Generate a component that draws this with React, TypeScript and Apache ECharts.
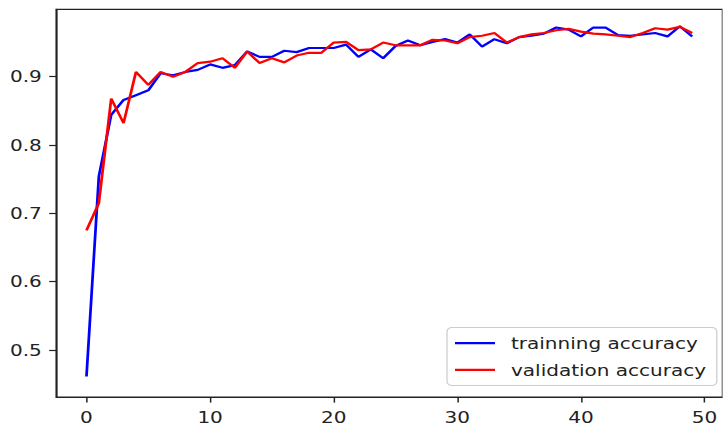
import React, { useEffect, useRef } from "react";
import * as echarts from "echarts";

const trainAcc = [
  0.461, 0.754, 0.844, 0.866, 0.873, 0.880, 0.905, 0.902, 0.907, 0.910,
  0.918, 0.913, 0.917, 0.937, 0.929, 0.929, 0.938, 0.936, 0.942, 0.942,
  0.942, 0.947, 0.929, 0.940, 0.927, 0.945, 0.953, 0.946, 0.951, 0.955,
  0.950, 0.962, 0.944, 0.955, 0.949, 0.958, 0.960, 0.963, 0.972, 0.969,
  0.959, 0.972, 0.972, 0.961, 0.960, 0.962, 0.964, 0.959, 0.974, 0.959,
];
const valAcc = [
  0.675, 0.715, 0.868, 0.832, 0.907, 0.888, 0.907, 0.900, 0.907, 0.920,
  0.922, 0.927, 0.913, 0.937, 0.920, 0.927, 0.921, 0.931, 0.935, 0.935,
  0.950, 0.951, 0.939, 0.940, 0.950, 0.946, 0.946, 0.946, 0.954, 0.953,
  0.949, 0.958, 0.960, 0.964, 0.950, 0.958, 0.962, 0.964, 0.968, 0.970,
  0.966, 0.963, 0.962, 0.960, 0.958, 0.964, 0.971, 0.969, 0.973, 0.964,
];
const epochs = trainAcc.map((_, i) => i);
const xTicks = [0, 10, 20, 30, 40, 50];
const yTicks = [0.5, 0.6, 0.7, 0.8, 0.9];
const seriesNames = ["trainning accuracy", "validation accuracy"];
const seriesColors = ["#0000ff", "#ff0000"];

const W = 723;
const H = 433;
const SX = 1.25; // horizontal stretch of the reference figure
const IW = W / SX;

export default function App() {
  const ref = useRef<HTMLDivElement>(null);
  useEffect(() => {
    if (!ref.current) return;
    const chart = echarts.init(ref.current, null, { renderer: "svg" });
    const font = "DejaVu Sans";
    const txt = "#222";
    chart.setOption({
      animation: false,
      backgroundColor: "#fff",
      grid: {
        left: 44.96,
        top: 9.3,
        width: 536.8,
        height: 387.7,
        show: true,
        borderColor: "#222",
        borderWidth: 1.2,
        backgroundColor: "transparent",
      },
      xAxis: {
        type: "value",
        min: -2.45,
        max: 51.45,
        splitLine: { show: false },
        axisLine: { show: true, onZero: false, lineStyle: { color: "#222", width: 1.2 } },
        axisTick: {
          show: true,
          length: 5.6,
          customValues: xTicks,
          lineStyle: { color: "#222", width: 1.2 },
        },
        axisLabel: {
          customValues: xTicks,
          margin: 12,
          color: txt,
          fontFamily: font,
          fontSize: 16,
        },
      },
      yAxis: {
        type: "value",
        min: 0.431,
        max: 0.9987,
        splitLine: { show: false },
        axisLine: { show: true, onZero: false, lineStyle: { color: "#222", width: 1.2 } },
        axisTick: {
          show: true,
          length: 5.6,
          customValues: yTicks,
          lineStyle: { color: "#222", width: 1.2 },
        },
        axisLabel: {
          customValues: yTicks,
          margin: 11.5,
          color: txt,
          fontFamily: font,
          fontSize: 16,
          formatter: (v: number) => v.toFixed(1),
        },
      },
      legend: {
        orient: "vertical",
        left: 357.6,
        top: 327.5,
        align: "left",
        selectedMode: false,
        padding: [6.4, 8.6, 6.4, 6.4],
        itemGap: 8,
        itemWidth: 32,
        itemHeight: 2.2,
        icon: "rect",
        backgroundColor: "rgba(255,255,255,0.8)",
        borderColor: "#cccccc",
        borderWidth: 1,
        borderRadius: 4,
        textStyle: {
          color: txt,
          fontFamily: font,
          fontSize: 16,
          lineHeight: 18.6,
          padding: [0, 0, 0, 7.8],
        },
        data: seriesNames.map((n, i) => ({
          name: n,
          icon: "rect",
          itemStyle: { color: seriesColors[i] },
        })),
      },
      series: [
        {
          name: seriesNames[0],
          type: "line",
          data: epochs.map((e, i) => [e, trainAcc[i]]),
          symbol: "none",
          showSymbol: false,
          lineStyle: { color: seriesColors[0], width: 2.2 },
          itemStyle: { color: seriesColors[0] },
          z: 2,
        },
        {
          name: seriesNames[1],
          type: "line",
          data: epochs.map((e, i) => [e, valAcc[i]]),
          symbol: "none",
          showSymbol: false,
          lineStyle: { color: seriesColors[1], width: 2.2 },
          itemStyle: { color: seriesColors[1] },
          z: 3,
        },
      ],
    });
    return () => chart.dispose();
  }, []);
  return (
    <div
      style={{
        position: "fixed",
        left: 0,
        top: 0,
        width: W,
        height: H,
        overflow: "hidden",
        background: "#fff",
      }}
    >
      <div
        ref={ref}
        style={{
          width: IW,
          height: H,
          transform: `scaleX(${SX})`,
          transformOrigin: "0 0",
        }}
      />
    </div>
  );
}
